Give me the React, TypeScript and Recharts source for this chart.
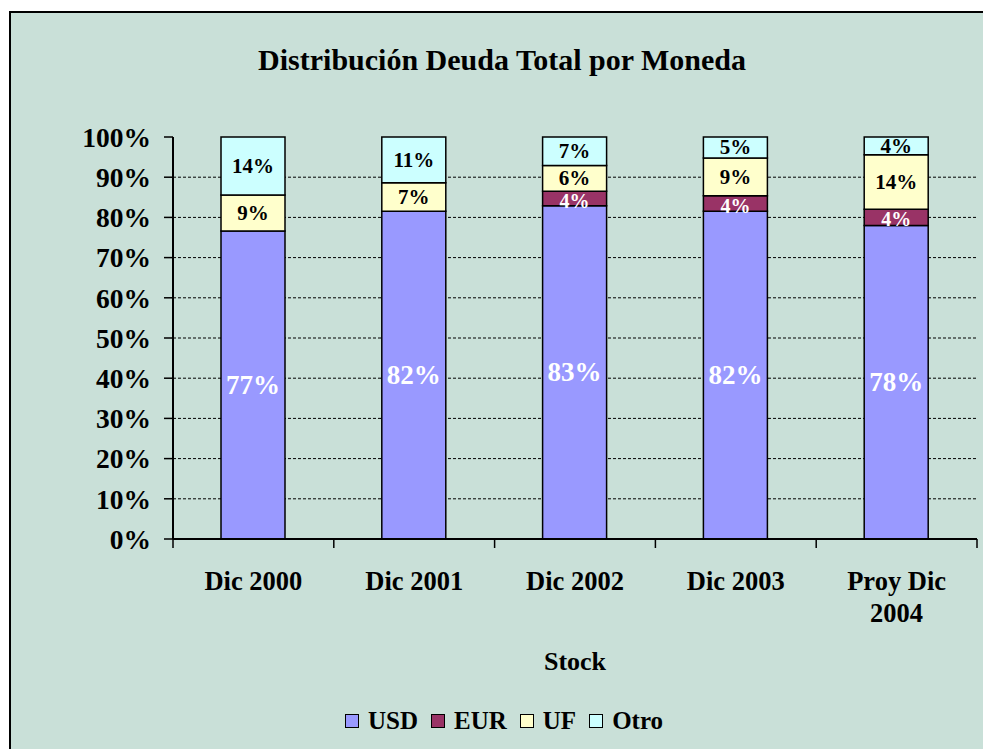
import { BarChart, Bar, XAxis, YAxis, CartesianGrid, LabelList } from 'recharts'

const CATEGORIES = ['Dic 2000', 'Dic 2001', 'Dic 2002', 'Dic 2003', 'Proy Dic 2004']
const USD = [76.6, 81.5, 82.9, 81.5, 78.0]
const EUR = [0, 0, 3.6, 3.9, 4.0]
const UF = [9.0, 7.1, 6.4, 9.4, 13.6]
const OTRO = [14.4, 11.4, 7.1, 5.2, 4.4]
const Y_TICKS = [0, 10, 20, 30, 40, 50, 60, 70, 80, 90, 100]

const FONT = '"Liberation Serif", "Times New Roman", serif'
const BG = '#C9E0D8'
const W = 983
const H = 749
const MARGIN = { top: 137, right: 6, bottom: 110, left: 73 }
const Y_AXIS_W = 100

const SERIES = [
  { key: 'USD', values: USD, fill: '#9999FF', text: '#FFFFFF', size: 27, shift: 0 },
  { key: 'EUR', values: EUR, fill: '#993366', text: '#FFFFFF', size: 20, shift: 2 },
  { key: 'UF', values: UF, fill: '#FFFFCC', text: '#000000', size: 21, shift: 0 },
  { key: 'Otro', values: OTRO, fill: '#CCFFFF', text: '#000000', size: 21, shift: 0 },
]

const data = CATEGORIES.map((category, i) => {
  const row: Record<string, string | number> = { category }
  SERIES.forEach((s) => { row[s.key] = s.values[i] })
  return row
})

// long category names go on two lines, like Excel does
function wrap(label: string): string[] {
  if (label.length <= 9) return [label]
  const cut = label.lastIndexOf(' ')
  return [label.slice(0, cut), label.slice(cut + 1)]
}

function CategoryTick(props: any) {
  const { x, y, payload, index } = props
  const band = (W - MARGIN.right - MARGIN.left - Y_AXIS_W) / CATEGORIES.length
  const lines = wrap(String(payload.value))
  return (
    <g>
      <line x1={x - band / 2} x2={x - band / 2} y1={y} y2={y + 9} stroke="#000" strokeWidth={1.5} />
      {index === CATEGORIES.length - 1 && (
        <line x1={x + band / 2} x2={x + band / 2} y1={y} y2={y + 9} stroke="#000" strokeWidth={1.5} />
      )}
      <text x={x} y={y + 51} textAnchor="middle" fill="#000" fontSize={26.5} fontWeight={700} fontFamily={FONT}>
        {lines.map((l, i) => (
          <tspan key={l} x={x} dy={i === 0 ? 0 : 32}>{l}</tspan>
        ))}
      </text>
    </g>
  )
}

const makeLabel = (fill: string, size: number, shift: number) => (props: any) => {
  const { x, y, width, height, value } = props
  if (!value) return null
  return (
    <text
      x={Number(x) + Number(width) / 2}
      y={Number(y) + Number(height) / 2 + shift}
      fill={fill}
      fontSize={size}
      fontWeight={700}
      fontFamily={FONT}
      textAnchor="middle"
      dominantBaseline="central"
    >
      {Math.round(Number(value))}%
    </text>
  )
}

export default function App() {
  return (
    <div style={{ position: 'absolute', left: 0, top: 0, width: W, height: H, overflow: 'hidden', fontFamily: FONT }}>
      <div
        style={{
          position: 'absolute', left: 9, top: 11, width: 990, height: 745,
          border: '2px solid #000', background: BG,
        }}
      />
      <div style={{ position: 'absolute', left: 0, top: 45, width: 1004, textAlign: 'center', fontSize: 30, lineHeight: '30px', fontWeight: 700 }}>
        Distribución Deuda Total por Moneda
      </div>
      <div style={{ position: 'absolute', left: 0, top: 0 }}>
        <BarChart width={W} height={H} data={data} margin={MARGIN}>
          <CartesianGrid
            vertical={false}
            horizontalValues={Y_TICKS.filter((v) => v > 0 && v < 100)}
            stroke="#000"
            strokeDasharray="3 2"
          />
          <XAxis
            dataKey="category"
            height={100}
            interval={0}
            tickLine={false}
            tickSize={0}
            tickMargin={0}
            axisLine={{ stroke: '#000', strokeWidth: 2 }}
            tick={<CategoryTick />}
          />
          <XAxis xAxisId="top" orientation="top" dataKey="category" height={0} tick={false} tickLine={false} axisLine={{ stroke: '#808080', strokeWidth: 1.5 }} />
          <YAxis
            width={Y_AXIS_W}
            domain={[0, 100]}
            ticks={Y_TICKS}
            interval={0}
            tickFormatter={(v) => `${v}%`}
            axisLine={{ stroke: '#000', strokeWidth: 2 }}
            tickLine={{ stroke: '#000', strokeWidth: 1.5 }}
            tickSize={9}
            tickMargin={13}
            tick={{ fill: '#000', fontSize: 27.5, fontWeight: 700, fontFamily: FONT }}
          />
          <YAxis yAxisId="right" orientation="right" width={0} domain={[0, 100]} tick={false} tickLine={false} axisLine={{ stroke: '#808080', strokeWidth: 1.5 }} />
          {SERIES.map((s) => (
            <Bar key={s.key} dataKey={s.key} stackId="a" fill={s.fill} stroke="#000" strokeWidth={1.5} barSize={64} isAnimationActive={false}>
              <LabelList dataKey={s.key} content={makeLabel(s.text, s.size, s.shift)} />
            </Bar>
          ))}
        </BarChart>
      </div>
      <div style={{ position: 'absolute', left: 475, top: 649, width: 200, textAlign: 'center', fontSize: 26, lineHeight: '26px', fontWeight: 700 }}>
        Stock
      </div>
      <div style={{ position: 'absolute', left: 345, top: 708, display: 'flex', alignItems: 'center', fontSize: 25, lineHeight: '25px', fontWeight: 700 }}>
        {SERIES.map((s) => (
          <div key={s.key} style={{ display: 'flex', alignItems: 'center', marginRight: 13 }}>
            <span style={{ display: 'inline-block', width: 14, height: 14, boxSizing: 'border-box', border: '1.5px solid #000', background: s.fill, marginRight: 9 }} />
            <span>{s.key}</span>
          </div>
        ))}
      </div>
    </div>
  )
}
